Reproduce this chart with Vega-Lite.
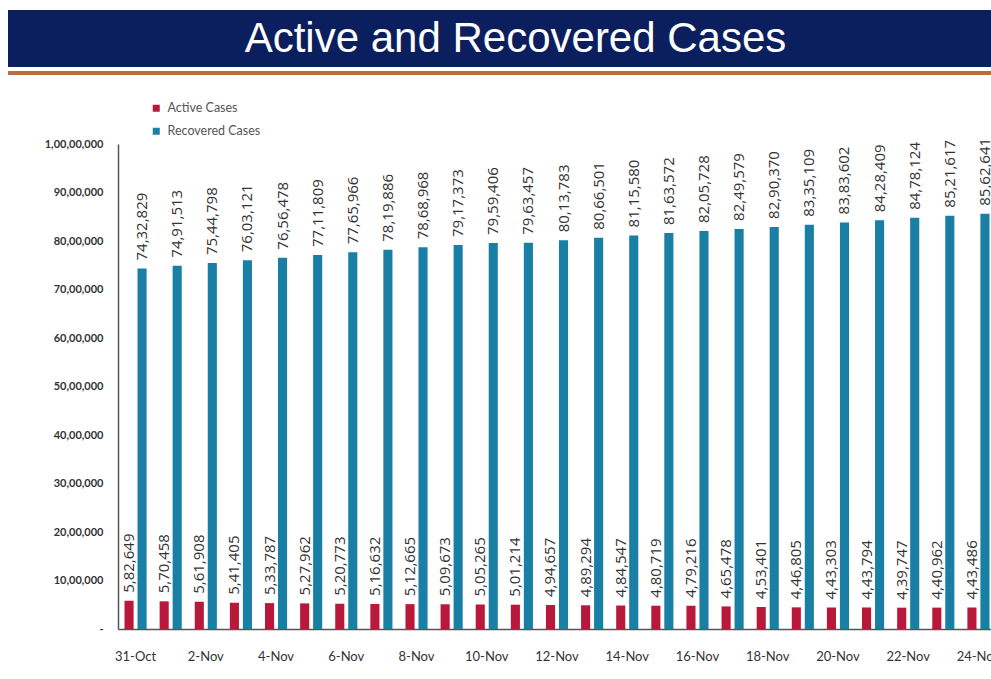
{
  "$schema": "https://vega.github.io/schema/vega-lite/v6.json",
  "padding": {"left": 8, "top": 10, "right": 0, "bottom": 0},
  "background": "white",
  "config": {"view": {"stroke": null}, "font": "Lato"},
  "spacing": 59,
  "align": "none",
  "vconcat": [
    {
      "spacing": 0,
      "vconcat": [
        {
          "width": 983,
          "height": 57,
          "view": {"fill": "#0b1f5e", "stroke": null},
          "data": {"values": [{"t": "Active and Recovered Cases"}]},
          "mark": {"type": "text", "font": "Liberation Sans", "fontSize": 42, "color": "white", "dx": 16, "baseline": "middle"},
          "encoding": {"text": {"field": "t"}}
        },
        {
          "width": 983,
          "height": 4,
          "view": {"fill": "#b86f3e", "stroke": null},
          "data": {"values": [{"t": ""}]},
          "mark": {"type": "text"},
          "encoding": {"text": {"field": "t"}}
        }
      ]
    },
    {
      "spacing": 0,
      "hconcat": [
        {
          "width": 1,
          "height": 485,
          "data": {"values": [{"t": ""}]},
          "mark": {"type": "text"},
          "encoding": {"text": {"field": "t"}}
        },
        {
          "width": 878,
          "height": 485,
          "data": {"values": [
            {"date": "31-Oct", "series": "Active Cases", "value": 582649},
            {"date": "31-Oct", "series": "Recovered Cases", "value": 7432829},
            {"date": "1-Nov", "series": "Active Cases", "value": 570458},
            {"date": "1-Nov", "series": "Recovered Cases", "value": 7491513},
            {"date": "2-Nov", "series": "Active Cases", "value": 561908},
            {"date": "2-Nov", "series": "Recovered Cases", "value": 7544798},
            {"date": "3-Nov", "series": "Active Cases", "value": 541405},
            {"date": "3-Nov", "series": "Recovered Cases", "value": 7603121},
            {"date": "4-Nov", "series": "Active Cases", "value": 533787},
            {"date": "4-Nov", "series": "Recovered Cases", "value": 7656478},
            {"date": "5-Nov", "series": "Active Cases", "value": 527962},
            {"date": "5-Nov", "series": "Recovered Cases", "value": 7711809},
            {"date": "6-Nov", "series": "Active Cases", "value": 520773},
            {"date": "6-Nov", "series": "Recovered Cases", "value": 7765966},
            {"date": "7-Nov", "series": "Active Cases", "value": 516632},
            {"date": "7-Nov", "series": "Recovered Cases", "value": 7819886},
            {"date": "8-Nov", "series": "Active Cases", "value": 512665},
            {"date": "8-Nov", "series": "Recovered Cases", "value": 7868968},
            {"date": "9-Nov", "series": "Active Cases", "value": 509673},
            {"date": "9-Nov", "series": "Recovered Cases", "value": 7917373},
            {"date": "10-Nov", "series": "Active Cases", "value": 505265},
            {"date": "10-Nov", "series": "Recovered Cases", "value": 7959406},
            {"date": "11-Nov", "series": "Active Cases", "value": 501214},
            {"date": "11-Nov", "series": "Recovered Cases", "value": 7963457},
            {"date": "12-Nov", "series": "Active Cases", "value": 494657},
            {"date": "12-Nov", "series": "Recovered Cases", "value": 8013783},
            {"date": "13-Nov", "series": "Active Cases", "value": 489294},
            {"date": "13-Nov", "series": "Recovered Cases", "value": 8066501},
            {"date": "14-Nov", "series": "Active Cases", "value": 484547},
            {"date": "14-Nov", "series": "Recovered Cases", "value": 8115580},
            {"date": "15-Nov", "series": "Active Cases", "value": 480719},
            {"date": "15-Nov", "series": "Recovered Cases", "value": 8163572},
            {"date": "16-Nov", "series": "Active Cases", "value": 479216},
            {"date": "16-Nov", "series": "Recovered Cases", "value": 8205728},
            {"date": "17-Nov", "series": "Active Cases", "value": 465478},
            {"date": "17-Nov", "series": "Recovered Cases", "value": 8249579},
            {"date": "18-Nov", "series": "Active Cases", "value": 453401},
            {"date": "18-Nov", "series": "Recovered Cases", "value": 8290370},
            {"date": "19-Nov", "series": "Active Cases", "value": 446805},
            {"date": "19-Nov", "series": "Recovered Cases", "value": 8335109},
            {"date": "20-Nov", "series": "Active Cases", "value": 443303},
            {"date": "20-Nov", "series": "Recovered Cases", "value": 8383602},
            {"date": "21-Nov", "series": "Active Cases", "value": 443794},
            {"date": "21-Nov", "series": "Recovered Cases", "value": 8428409},
            {"date": "22-Nov", "series": "Active Cases", "value": 439747},
            {"date": "22-Nov", "series": "Recovered Cases", "value": 8478124},
            {"date": "23-Nov", "series": "Active Cases", "value": 440962},
            {"date": "23-Nov", "series": "Recovered Cases", "value": 8521617},
            {"date": "24-Nov", "series": "Active Cases", "value": 443486},
            {"date": "24-Nov", "series": "Recovered Cases", "value": 8562641}
          ]},
          "transform": [
            {"calculate": "replace(format(floor(datum.value/1000),'d'), regexp('([0-9])(?=([0-9]{2})+$)','g'), '$1,') + ',' + slice('00' + (datum.value % 1000), -3)", "as": "label"}
          ],
          "encoding": {
            "x": {
              "field": "date", "type": "nominal", "sort": null,
              "scale": {"paddingInner": 0, "paddingOuter": 0},
              "axis": {
                "title": null, "labelAngle": 0, "ticks": false,
                "domainColor": "#555", "domainWidth": 1.5,
                "labelFontSize": 13, "labelColor": "#333", "labelPadding": 21,
                "values": ["31-Oct", "2-Nov", "4-Nov", "6-Nov", "8-Nov", "10-Nov", "12-Nov", "14-Nov", "16-Nov", "18-Nov", "20-Nov", "22-Nov", "24-Nov"]
              }
            },
            "xOffset": {"field": "series", "type": "nominal", "scale": {"paddingInner": 0.3, "paddingOuter": 0.5}},
            "y": {
              "field": "value", "type": "quantitative",
              "scale": {"domain": [0, 10000000], "nice": false},
              "axis": {
                "title": null, "grid": false, "ticks": false,
                "values": [0, 1000000, 2000000, 3000000, 4000000, 5000000, 6000000, 7000000, 8000000, 9000000, 10000000],
                "domainColor": "#555", "domainWidth": 1.5,
                "labelFontSize": 11, "labelFontWeight": "bold", "labelColor": "#333", "labelPadding": 15,
                "labelExpr": "datum.value == 0 ? '-' : replace(format(floor(datum.value/1000),'d'), regexp('([0-9])(?=([0-9]{2})+$)','g'), '$1,') + ',000'",
                "minExtent": 109
              }
            }
          },
          "layer": [
            {
              "mark": {"type": "bar"},
              "encoding": {
                "color": {
                  "field": "series", "type": "nominal",
                  "scale": {"domain": ["Active Cases", "Recovered Cases"], "range": ["#b8193a", "#1a7fa5"]},
                  "legend": {
                    "title": null, "orient": "none", "legendX": 142, "legendY": 92,
                    "symbolType": "square", "symbolSize": 49, "symbolStrokeWidth": 0,
                    "labelFontSize": 12.5, "labelColor": "#555", "rowPadding": 10, "labelOffset": 5
                  }
                }
              }
            },
            {
              "mark": {"type": "text", "angle": 270, "align": "left", "baseline": "middle", "dx": 8, "fontSize": 15, "font": "Open Sans", "color": "#333"},
              "encoding": {"text": {"field": "label"}}
            }
          ]
        }
      ]
    }
  ]
}
